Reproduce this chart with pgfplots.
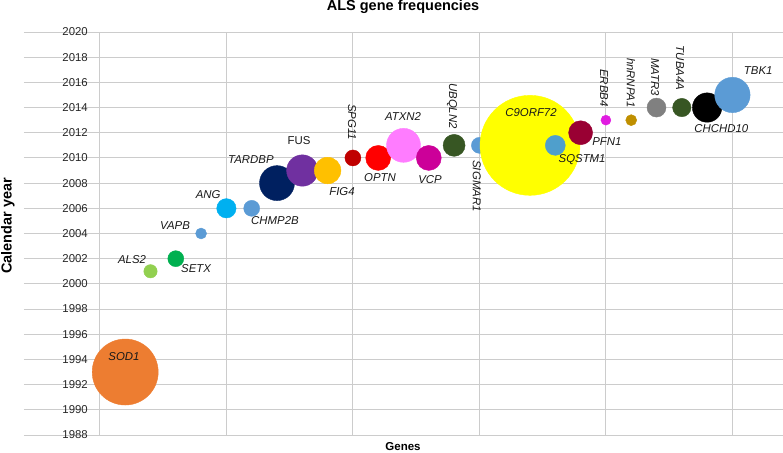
\documentclass[border=0pt]{standalone}
\usepackage{fontspec}
\setmainfont{Liberation Sans}
\usepackage{pgfplots}
\pgfplotsset{compat=1.18}

\definecolor{gridgray}{RGB}{204,204,204}
\definecolor{cSOD}{HTML}{ED7D31}
\definecolor{cALS}{HTML}{92D050}
\definecolor{cSETX}{HTML}{00B050}
\definecolor{cBlue}{HTML}{5B9BD5}
\definecolor{cANG}{HTML}{00B0F0}
\definecolor{cTDP}{HTML}{002060}
\definecolor{cFUS}{HTML}{7030A0}
\definecolor{cFIG}{HTML}{FFC000}
\definecolor{cSPG}{HTML}{C00000}
\definecolor{cOPTN}{HTML}{FF0000}
\definecolor{cATXN}{HTML}{FF7CFF}
\definecolor{cVCP}{HTML}{CC0099}
\definecolor{cDkGreen}{HTML}{375623}
\definecolor{cC9}{HTML}{FFFF00}
\definecolor{cSQS}{HTML}{4F9FCC}
\definecolor{cPFN}{HTML}{990033}
\definecolor{cERBB}{HTML}{E01BE0}
\definecolor{cHNR}{HTML}{BF8F00}
\definecolor{cMATR}{HTML}{808080}

\begin{document}
\begin{tikzpicture}
\useasboundingbox (0,0) rectangle (783pt,452pt);
\begin{axis}[
    at={(24pt,17pt)}, anchor=south west,
    width=759pt, height=403pt, scale only axis,
    xmin=-3, xmax=27, ymin=1988, ymax=2020,
    axis line style={draw=none},
    xtick={0,5,...,25}, xticklabels={},
    ytick={1988,1990,...,2020},
    grid=major,
    major grid style={gridgray, line width=0.9pt},
    tick style={draw=none},
    yticklabel style={anchor=east, inner sep=0pt, xshift=64pt, font=\fontsize{11.4}{12}\selectfont, text=black!85},
    /pgf/number format/1000 sep={},
    /pgf/number format/assume math mode=true,
    clip=false,
    every axis plot/.append style={only marks, mark=*, mark options={draw=none}},
]

\addplot[cSOD, mark size=33pt] coordinates {(1,1993)};
\addplot[cALS, mark size=6.7pt] coordinates {(2,2001)};
\addplot[cSETX, mark size=8pt] coordinates {(3,2002)};
\addplot[cBlue, mark size=5.5pt] coordinates {(4,2004)};
\addplot[cANG, mark size=9.7pt] coordinates {(5,2006)};
\addplot[cBlue, mark size=8pt] coordinates {(6,2006)};
\addplot[cTDP, mark size=17.5pt] coordinates {(7,2008)};
\addplot[cFUS, mark size=15.7pt] coordinates {(8,2009)};
\addplot[cFIG, mark size=13.3pt] coordinates {(9,2009)};
\addplot[cSPG, mark size=8pt] coordinates {(10,2010)};
\addplot[cOPTN, mark size=12.5pt] coordinates {(11,2010)};
\addplot[cATXN, mark size=17pt] coordinates {(12,2011)};
\addplot[cVCP, mark size=12.5pt] coordinates {(13,2010)};
\addplot[cDkGreen, mark size=11pt] coordinates {(14,2011)};
\addplot[cBlue, mark size=8pt] coordinates {(15,2011)};
\addplot[cC9, mark size=50pt] coordinates {(17,2011)};
\addplot[cSQS, mark size=10pt] coordinates {(18,2011)};
\addplot[cPFN, mark size=12pt] coordinates {(19,2012)};
\addplot[cERBB, mark size=5pt] coordinates {(20,2013)};
\addplot[cHNR, mark size=5.5pt] coordinates {(21,2013)};
\addplot[cMATR, mark size=9.5pt] coordinates {(22,2014)};
\addplot[cDkGreen, mark size=9.2pt] coordinates {(23,2014)};
\addplot[black, mark size=14.7pt] coordinates {(24,2014)};
\addplot[cBlue, mark size=17.7pt] coordinates {(25,2015)};

% label anchors, drawn after the axis so they sit above the bubbles
\coordinate (lSOD) at (axis cs:0.95,1994.2);
\coordinate (lALS) at (axis cs:1.27,2001.9);
\coordinate (lSETX) at (axis cs:3.80,2001.2);
\coordinate (lVAPB) at (axis cs:2.97,2004.6);
\coordinate (lANG) at (axis cs:4.28,2007.06);
\coordinate (lCHMP) at (axis cs:6.92,2005.0);
\coordinate (lTDP) at (axis cs:5.97,2009.84);
\coordinate (lFUS) at (axis cs:7.87,2011.35);
\coordinate (lFIG) at (axis cs:9.57,2007.3);
\coordinate (lSPG) at (axis cs:9.97,2012.85);
\coordinate (lOPTN) at (axis cs:11.07,2008.41);
\coordinate (lATXN) at (axis cs:11.98,2013.25);
\coordinate (lVCP) at (axis cs:13.05,2008.25);
\coordinate (lUBQ) at (axis cs:13.92,2014.12);
\coordinate (lSIG) at (axis cs:14.9,2007.77);
\coordinate (lC9) at (axis cs:17.04,2013.57);
\coordinate (lSQS) at (axis cs:19.06,2009.84);
\coordinate (lPFN) at (axis cs:20.04,2011.27);
\coordinate (lERBB) at (axis cs:19.93,2015.55);
\coordinate (lHNR) at (axis cs:20.99,2015.95);
\coordinate (lMATR) at (axis cs:21.94,2016.43);
\coordinate (lTUBA) at (axis cs:22.93,2017.14);
\coordinate (lCHCH) at (axis cs:24.56,2012.3);
\coordinate (lTBK) at (axis cs:26.02,2016.9);
\end{axis}

\begin{scope}[every node/.style={font=\fontsize{11.4}{12}\selectfont\itshape, inner sep=0pt, text=black!90}]
\node at (lSOD) {SOD1};
\node at (lALS) {ALS2};
\node at (lSETX) {SETX};
\node at (lVAPB) {VAPB};
\node at (lANG) {ANG};
\node at (lCHMP) {CHMP2B};
\node at (lTDP) {TARDBP};
\node[font=\fontsize{11.4}{12}\selectfont] at (lFUS) {FUS};
\node at (lFIG) {FIG4};
\node[rotate=-90] at (lSPG) {SPG11};
\node at (lOPTN) {OPTN};
\node at (lATXN) {ATXN2};
\node at (lVCP) {VCP};
\node[rotate=-90] at (lUBQ) {UBQLN2};
\node[rotate=-90] at (lSIG) {SIGMAR1};
\node at (lC9) {C9ORF72};
\node at (lSQS) {SQSTM1};
\node at (lPFN) {PFN1};
\node[rotate=-90] at (lERBB) {ERBB4};
\node[rotate=-90] at (lHNR) {hnRNPA1};
\node[rotate=-90] at (lMATR) {MATR3};
\node[rotate=-90] at (lTUBA) {TUBA4A};
\node at (lCHCH) {CHCHD10};
\node at (lTBK) {TBK1};
\end{scope}

\node[font=\fontsize{14.5}{16}\selectfont\bfseries, inner sep=0pt] at (403pt,445.5pt) {ALS gene frequencies};
\node[font=\fontsize{11.5}{13}\selectfont\bfseries, inner sep=0pt] at (403pt,5pt) {Genes};
\node[font=\fontsize{14.5}{16}\selectfont\bfseries, inner sep=0pt, rotate=90] at (8pt,226pt) {Calendar year};
\end{tikzpicture}
\end{document}
